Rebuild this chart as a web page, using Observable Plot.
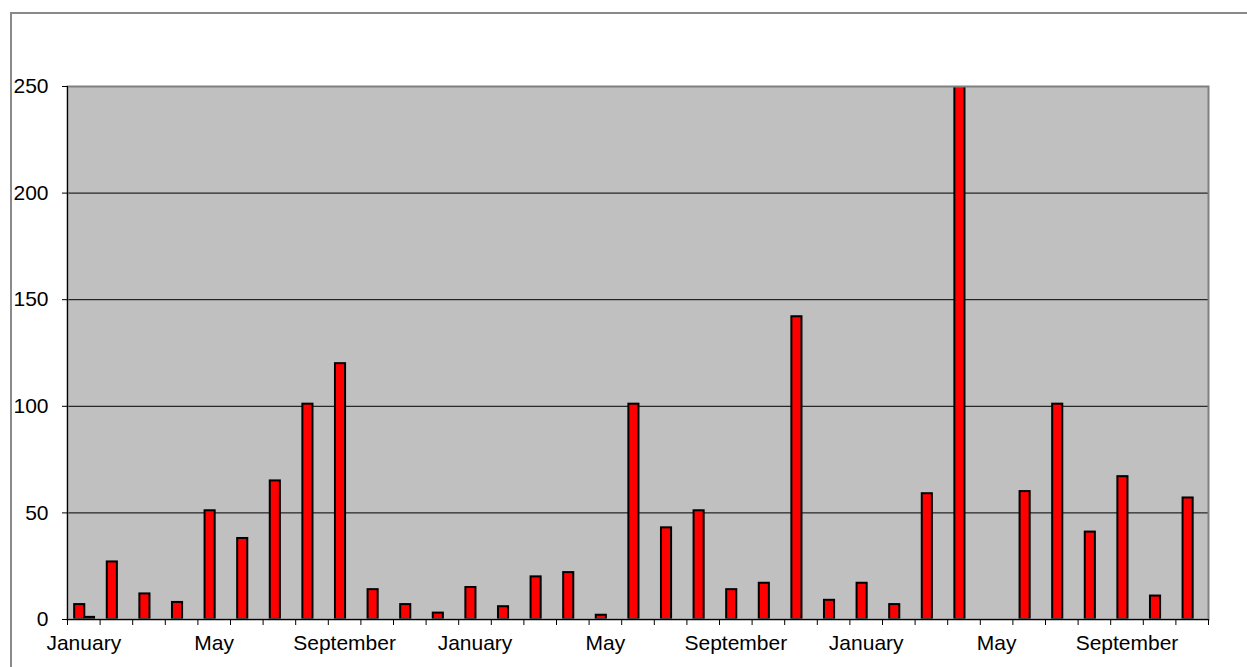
<!DOCTYPE html>
<html><head><meta charset="utf-8">
<script src="https://cdn.jsdelivr.net/npm/d3@7"></script>
<script src="https://cdn.jsdelivr.net/npm/@observablehq/plot@0.6"></script>
<style>
body{margin:0;background:#fff;overflow:hidden}
#frame{position:absolute;left:10px;top:12px;width:1260px;height:700px;border:2px solid #8a8a8a;box-sizing:border-box}
#chart{position:absolute;left:0;top:0}
</style></head><body><div id="frame"></div><div id="chart"></div>
<script>
const months = [
  "January","February","March","April","May","June","July","August","September","October","November","December",
  "January","February","March","April","May","June","July","August","September","October","November","December",
  "January","February","March","April","May","June","July","August","September","October","November"
];
const seriesA = [7,27,12,8,51,38,65,101,120,14,7,3, 15,6,20,22,2,101,43,51,14,17,142,9, 17,7,59,300,null,60,101,41,67,11,57];
const seriesB = [1,null,null,null,null,null,null,null,null,null,null,null, null,null,null,null,null,null,null,null,null,null,null,null, null,null,null,null,null,null,null,null,null,null,null];
const yTicks = [0,50,100,150,200,250];
const gridValues = [50,100,150,200];
const labelEvery = 4;

const data = months.map((m, i) => ({i, month: m, a: seriesA[i], b: seriesB[i]}));
const n = months.length;
const labelPos = d3.range(0, n, labelEvery).map(i => i + 0.5);

const chart = Plot.plot({
  width: 1247,
  height: 667,
  marginLeft: 67,
  marginRight: 39,
  marginTop: 86,
  marginBottom: 48,
  style: {fontFamily: "'Liberation Sans', Arial, sans-serif", fontSize: "21px", color: "black", background: "transparent"},
  x: {domain: [0, n], axis: null},
  y: {domain: [0, 250], axis: null},
  marks: [
    Plot.frame({fill: "#c0c0c0", stroke: "none"}),
    Plot.ruleY(gridValues, {stroke: "black", strokeWidth: 1}),
    Plot.rect(data.filter(d => d.a != null), {x1: d => d.i + 0.22, x2: d => d.i + 0.53, y1: () => 0, y2: "a", fill: "#ff0000", stroke: "black", strokeWidth: 2, clip: true}),
    Plot.rect(data.filter(d => d.b != null), {x1: d => d.i + 0.53, x2: d => d.i + 0.83, y1: () => 0, y2: "b", fill: "#ff0000", stroke: "black", strokeWidth: 2, clip: true}),
    Plot.frame({stroke: "#808080", strokeWidth: 2}),
    Plot.ruleY([0], {stroke: "black", strokeWidth: 1}),
    Plot.ruleX([0], {stroke: "black", strokeWidth: 1}),
    Plot.axisY(yTicks, {tickSize: 5, tickPadding: 14, label: null, stroke: "black"}),
    Plot.axisX(d3.range(0, n + 1), {tickSize: 6, tickFormat: () => "", label: null, stroke: "black"}),
    Plot.axisX(labelPos, {tickSize: 0, tickPadding: 16, tickFormat: v => months[Math.floor(v)], label: null})
  ]
});
document.getElementById("chart").append(chart);
</script>
</body></html>
